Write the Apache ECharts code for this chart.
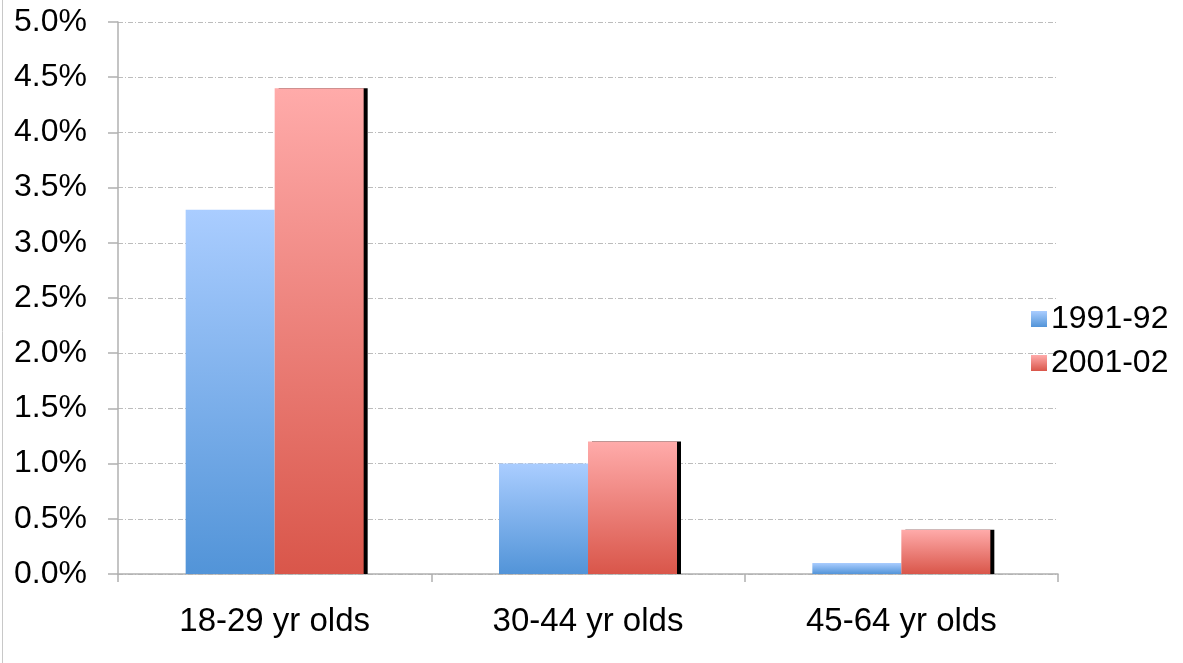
<!DOCTYPE html>
<html><head><meta charset="utf-8">
<style>html,body{margin:0;padding:0;background:#fff}#c{width:1183px;height:663px}</style>
<script src="https://cdn.jsdelivr.net/npm/echarts@6/dist/echarts.min.js"></script>
</head><body><div id="c"></div>
<script>
const categories = ['18-29 yr olds', '30-44 yr olds', '45-64 yr olds'];
const series1991 = [3.3, 1.0, 0.1];
const series2001 = [4.4, 1.2, 0.4];
const seriesNames = ['1991-92', '2001-02'];

const chart = echarts.init(document.getElementById('c'));
const font = 'Liberation Sans, Arial, sans-serif';
const blueGrad = new echarts.graphic.LinearGradient(0, 0, 0, 1, [{offset: 0, color: '#aacdff'}, {offset: 1, color: '#5294d8'}]);
const redGrad = new echarts.graphic.LinearGradient(0, 0, 0, 1, [{offset: 0, color: '#ffabaa'}, {offset: 1, color: '#d9564a'}]);
chart.setOption({
  animation: false,
  grid: {left: 118, right: 125, top: 22, bottom: 89, containLabel: false},
  legend: {
    orient: 'vertical', left: 1026, top: 298, itemWidth: 16, itemHeight: 16, itemGap: 12,
    icon: 'rect',
    textStyle: {fontFamily: font, fontSize: 32, lineHeight: 32, color: '#000', padding: [0, 0, 0, -1]},
    data: [
      {name: seriesNames[0], itemStyle: {color: blueGrad}},
      {name: seriesNames[1], itemStyle: {color: redGrad}}
    ]
  },
  xAxis: {
    type: 'category', data: categories,
    axisLine: {lineStyle: {color: '#b0b0b0', width: 1.5}},
    axisTick: {show: true, length: 8, alignWithLabel: false, lineStyle: {color: '#b0b0b0', width: 1.5}},
    axisLabel: {fontFamily: font, fontSize: 33, color: '#000', margin: 31}
  },
  yAxis: {
    type: 'value', min: 0, max: 5, interval: 0.5,
    axisLine: {show: true, lineStyle: {color: '#b0b0b0', width: 1.5}},
    axisTick: {show: true, length: 10, lineStyle: {color: '#b0b0b0', width: 1.5}},
    axisLabel: {fontFamily: font, fontSize: 32, color: '#000', margin: 31, formatter: v => v.toFixed(1) + '%'},
    splitLine: {show: true, lineStyle: {color: '#bcbcbc', type: [5, 2, 1, 2], width: 1}}
  },
  series: [
    {name: seriesNames[0], type: 'bar', data: series1991, barWidth: 89, barGap: '0%',
     itemStyle: {color: blueGrad}},
    {name: seriesNames[1], type: 'bar', data: series2001, barWidth: 89, barGap: '0%',
     itemStyle: {color: redGrad, shadowColor: '#000', shadowOffsetX: 4, shadowOffsetY: 0, shadowBlur: 0}}
  ],
  graphic: [
    {type: 'line', shape: {x1: 2.5, y1: 0, x2: 2.5, y2: 663}, style: {stroke: '#c8c8c8', lineWidth: 1}}
  ]
});
</script></body></html>
